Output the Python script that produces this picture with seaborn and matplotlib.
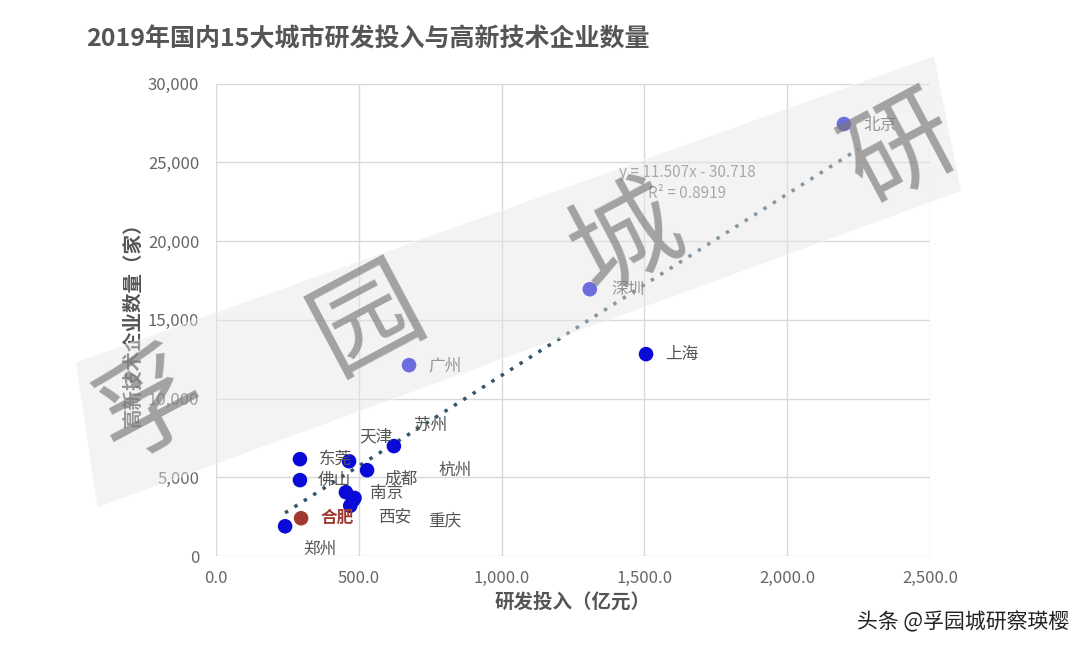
import matplotlib
matplotlib.use("Agg")
import matplotlib.pyplot as plt
import numpy as np
import pandas as pd
import seaborn as sns
from matplotlib.patches import Polygon

sns.set_theme(style="whitegrid")
plt.rcParams['font.family'] = ['Noto Sans CJK SC', 'DejaVu Sans']

# data
cities = ['北京', '深圳', '上海', '广州', '苏州', '天津', '成都', '东莞', '佛山',
          '南京', '杭州', '西安', '重庆', '合肥', '郑州']
rd_invest = [2199, 1309, 1506, 676, 623, 466, 529, 294, 294, 455, 480, 470, 485, 298, 242]
hitech = [27440, 16950, 12830, 12130, 6990, 6030, 5460, 6160, 4830, 4060, 3550, 3200, 3700, 2410, 1900]
# label offsets in pixels
label_dx = [36, 38, 36, 36, 37, 27, 34, 36, 34, 41, 102, 44, 90, 36, 35]
label_dy = [-1, 0, 0, -1, 21, 24, -9, 0, 0, -1, 30, -11, -23, 0, -23]

df = pd.DataFrame({'city': cities, 'x': rd_invest, 'y': hitech})
colors = ['#0a0ad8'] * len(cities)
colors[cities.index('合肥')] = '#a03a30'

fig = plt.figure(figsize=(10.8, 6.59), dpi=100)
ax = fig.add_axes([0.2, 0.156, 0.661, 0.717])

sns.scatterplot(data=df, x='x', y='y', hue='city', palette=dict(zip(cities, colors)),
                s=110, edgecolor='none', ax=ax, zorder=3, legend=False)

slope, intercept = 11.507, -30.718
xs = np.array([min(rd_invest), max(rd_invest) + 50])
ax.plot(xs, slope * xs + intercept, ls=(0, (1, 2.2)), lw=2.5, color='#34556b', zorder=2)

for c, x, y, dx, dy in zip(cities, rd_invest, hitech, label_dx, label_dy):
    col = '#a03a30' if c == '合肥' else '#555555'
    ax.annotate(c, (x, y), xytext=(dx, dy), textcoords='offset pixels', ha='center',
                va='center', fontsize=12, color=col, fontweight='bold' if c == '合肥' else 'normal',
                zorder=4)

ax.text(1650, 23700, 'y = 11.507x - 30.718\nR² = 0.8919', fontsize=11, color='#777777', ha='center',
        va='center', linespacing=1.3)

ax.set_xlim(0, 2500)
ax.set_ylim(0, 30000)
ax.set_xticks(np.arange(0, 2501, 500))
ax.set_yticks(np.arange(0, 30001, 5000))
ax.set_xticklabels([f'{v:,.1f}' for v in np.arange(0, 2501, 500)], color='#666666', fontsize=12)
ax.set_yticklabels([f'{v:,}' for v in np.arange(0, 30001, 5000)], color='#666666', fontsize=12)
ax.set_xlabel('研发投入（亿元）', fontsize=14, color='#555555', fontweight='bold')
ax.set_ylabel('高新技术企业数量（家）', fontsize=14, color='#555555', fontweight='bold')
ax.set_facecolor('none')
ax.grid(color='#d9d9d9', lw=1)
for s in ax.spines.values():
    s.set_visible(False)
ax.tick_params(axis='x', length=0, pad=10)
ax.tick_params(axis='y', length=0, pad=12)

fig.text(0.08, 0.94, '2019年国内15大城市研发投入与高新技术企业数量', fontsize=18,
         fontweight='bold', color='#555555', va='center')

# watermark band and characters over the chart
band = Polygon([[0.07, 0.45], [0.09, 0.23], [0.89, 0.71], [0.865, 0.915]], closed=True,
               transform=fig.transFigure, facecolor='#e6e6e6', alpha=0.45, zorder=5)
fig.patches.append(band)
for ch, fx, fy in [('孚', 0.14, 0.38), ('园', 0.34, 0.515), ('城', 0.58, 0.635), ('研', 0.835, 0.77)]:
    fig.text(fx, fy, ch, fontsize=78, color='#777777', alpha=0.65, rotation=28,
             ha='center', va='center', zorder=6)

fig.text(0.99, 0.055, '头条 @孚园城研察瑛樱', fontsize=15, color='#222222', ha='right', va='center')

fig.savefig('out.png', dpi=100)
